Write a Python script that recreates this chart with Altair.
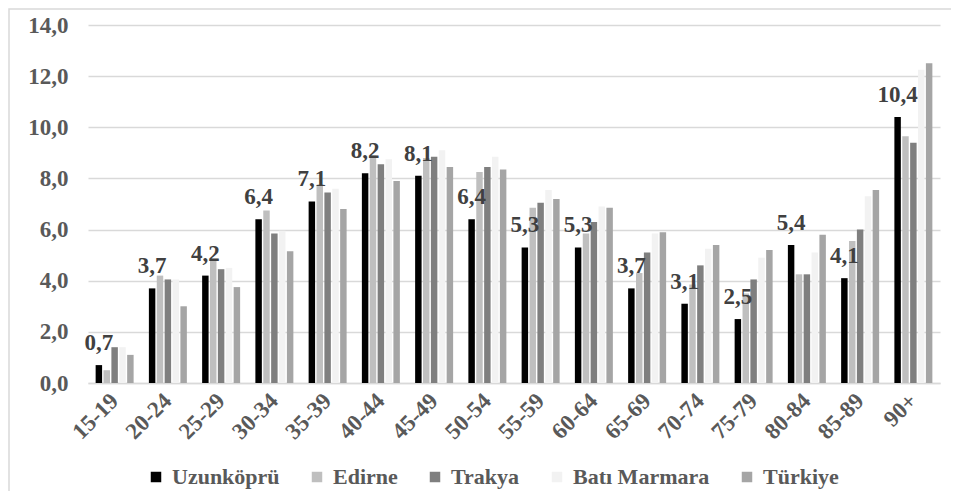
import altair as alt
import pandas as pd

groups = ["15-19", "20-24", "25-29", "30-34", "35-39", "40-44", "45-49", "50-54",
          "55-59", "60-64", "65-69", "70-74", "75-79", "80-84", "85-89", "90+"]
series = ["Uzunköprü", "Edirne", "Trakya", "Batı Marmara", "Türkiye"]

uzunkopru = [0.7, 3.7, 4.2, 6.4, 7.1, 8.2, 8.1, 6.4, 5.3, 5.3, 3.7, 3.1, 2.5, 5.4, 4.1, 10.4]
edirne = [0.5, 4.2, 4.85, 6.75, 7.75, 8.9, 8.8, 8.25, 6.85, 5.85, 4.3, 3.85, 3.5, 4.25, 5.55, 9.65]
trakya = [1.4, 4.05, 4.45, 5.85, 7.45, 8.55, 8.85, 8.45, 7.05, 6.3, 5.1, 4.6, 4.05, 4.25, 6.0, 9.4]
bati_marmara = [1.4, 4.05, 4.5, 5.95, 7.6, 8.75, 9.1, 8.85, 7.55, 6.9, 5.85, 5.25, 4.9, 5.1, 7.3, 12.25]
turkiye = [1.1, 3.0, 3.75, 5.15, 6.8, 7.9, 8.45, 8.35, 7.2, 6.85, 5.9, 5.4, 5.2, 5.8, 7.55, 12.5]

colors = ["#000000", "#bfbfbf", "#7f7f7f", "#f2f2f2", "#a5a5a5"]
y_ticks = [0, 2, 4, 6, 8, 10, 12, 14]

rows = []
for s, vals in zip(series, [uzunkopru, edirne, trakya, bati_marmara, turkiye]):
    for g, v in zip(groups, vals):
        rows.append({"group": g, "series": s, "value": v})
df = pd.DataFrame(rows)

FONT = "Liberation Serif"
W, H = 852, 358

x_enc = alt.X("group:N", sort=groups,
              scale=alt.Scale(paddingInner=0.26, paddingOuter=0.13),
              axis=alt.Axis(title=None, labelAngle=315, labelAlign="right",
                            labelBaseline="middle", labelFont=FONT,
                            labelFontWeight="bold", labelFontSize=23,
                            labelColor="#595959", labelPadding=14, ticks=False,
                            domainColor="#d9d9d9", domainWidth=1.5, grid=False))
xo_enc = alt.XOffset("series:N", sort=series,
                     scale=alt.Scale(paddingInner=0.18, paddingOuter=0.09))
y_enc = alt.Y("value:Q", scale=alt.Scale(domain=[0, 14], nice=False),
              axis=alt.Axis(title=None, values=y_ticks,
                            labelExpr="replace(format(datum.value, '.1f'), '.', ',')",
                            grid=True, gridColor="#d9d9d9", gridWidth=1.5,
                            domain=False, ticks=False, labelPadding=20,
                            labelFont=FONT, labelFontWeight="bold",
                            labelFontSize=23, labelColor="#595959"))

base = alt.Chart(df)

bars = base.mark_bar().encode(
    x=x_enc,
    xOffset=xo_enc,
    y=y_enc,
    color=alt.Color("series:N", sort=series,
                    scale=alt.Scale(domain=series, range=colors),
                    legend=alt.Legend(title=None, orient="none", legendX=57, legendY=441,
                                      direction="horizontal", symbolType="square",
                                      symbolSize=110, symbolStrokeWidth=0,
                                      labelFont=FONT, labelFontWeight="bold",
                                      labelFontSize=22, labelColor="#595959",
                                      columnPadding=26, labelOffset=5)),
)

labels = base.transform_filter(
    alt.datum.series == "Uzunköprü"
).transform_calculate(
    lbl="replace(format(datum.value, '.1f'), '.', ',')"
).mark_text(dy=-15, baseline="alphabetic", font=FONT, fontWeight="bold",
            fontSize=23, color="#404040").encode(
    x=alt.X("group:N", sort=groups),
    xOffset=alt.XOffset("series:N", sort=series),
    y=alt.Y("value:Q"),
    text="lbl:N",
)

border = alt.Chart(alt.Data(values=[{"a": 1}])).mark_rect(
    fill="white", fillOpacity=0, stroke="#d9d9d9", strokeWidth=1.5
).encode(x=alt.value(-79), x2=alt.value(900), y=alt.value(-16), y2=alt.value(520))

chart = alt.layer(bars, labels, border).properties(
    width=W, height=H,
    autosize=alt.AutoSizeParams(type="none"),
    padding={"left": 80, "top": 17, "right": 11, "bottom": 108},
    background="white",
).configure_view(stroke=None)

chart.save("out.html", embed_options={"renderer": "svg", "actions": False})
